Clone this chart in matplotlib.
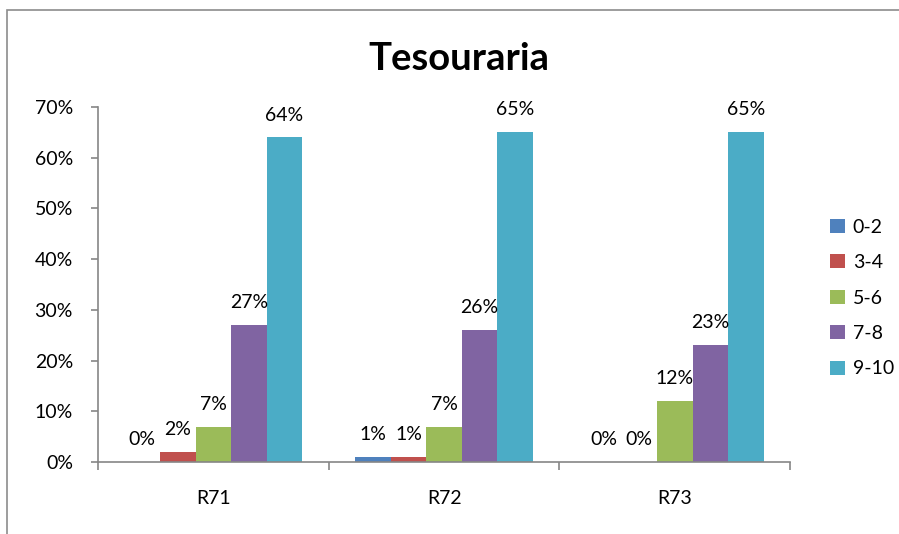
import matplotlib.pyplot as plt
import numpy as np
from matplotlib.patches import Rectangle

plt.rcParams['font.family'] = ['Lato', 'DejaVu Sans']

categories = ['R71', 'R72', 'R73']
series = ['0-2', '3-4', '5-6', '7-8', '9-10']
values = {
    '0-2': [0, 1, 0],
    '3-4': [2, 1, 0],
    '5-6': [7, 7, 12],
    '7-8': [27, 26, 23],
    '9-10': [64, 65, 65],
}
colors = ['#4F81BD', '#C0504D', '#9BBB59', '#8064A2', '#4BACC6']

fig = plt.figure(figsize=(8.99, 5.34), dpi=100)
ax = fig.add_axes([0.109, 0.1348, 0.770, 0.6648])

# outer chart frame, like an excel chart area
fig.patches.append(Rectangle((7 / 899, -0.1), 1.2, 1 - 10 / 534 + 0.1,
                             transform=fig.transFigure, fill=False,
                             edgecolor='#8c8c8c', linewidth=1.2))

fs = 14
x = np.arange(len(categories))
w = 1 / 6.5
for i, s in enumerate(series):
    pos = x + (i - 2) * w
    ax.bar(pos, values[s], width=w, color=colors[i], label=s, zorder=2)
    for p, v in zip(pos, values[s]):
        ax.annotate(f'{v}%', (p, v), xytext=(0, 10), textcoords='offset points',
                    ha='center', va='bottom', fontsize=fs)

ax.set_xlim(-0.5, 2.5)
ax.set_ylim(0, 70)
ax.set_yticks(range(0, 71, 10))
ax.set_yticklabels([f'{t}%' for t in range(0, 71, 10)], fontsize=fs)
ax.set_xticks(x)
ax.set_xticklabels(categories, fontsize=fs)
ax.set_xticks([-0.5, 0.5, 1.5, 2.5], minor=True)
ax.tick_params(axis='x', which='major', length=0, pad=20)
ax.tick_params(axis='x', which='minor', length=6, color='#868686', width=1.2)
ax.tick_params(axis='y', length=5, color='#868686', width=1.2, pad=13)

for side in ['top', 'right']:
    ax.spines[side].set_visible(False)
for side in ['left', 'bottom']:
    ax.spines[side].set_color('#868686')
    ax.spines[side].set_linewidth(1.2)

fig.text(459 / 899, 1 - 59 / 534, 'Tesouraria', ha='center', va='center',
         fontsize=27.5, fontweight='bold')

ax.legend(loc='center left', bbox_to_anchor=(1.058, 0.462), frameon=False,
          fontsize=fs, handlelength=0.75, handleheight=0.75, handletextpad=0.4,
          labelspacing=0.95, borderpad=0, borderaxespad=0)

fig.savefig('out.png', dpi=100)
